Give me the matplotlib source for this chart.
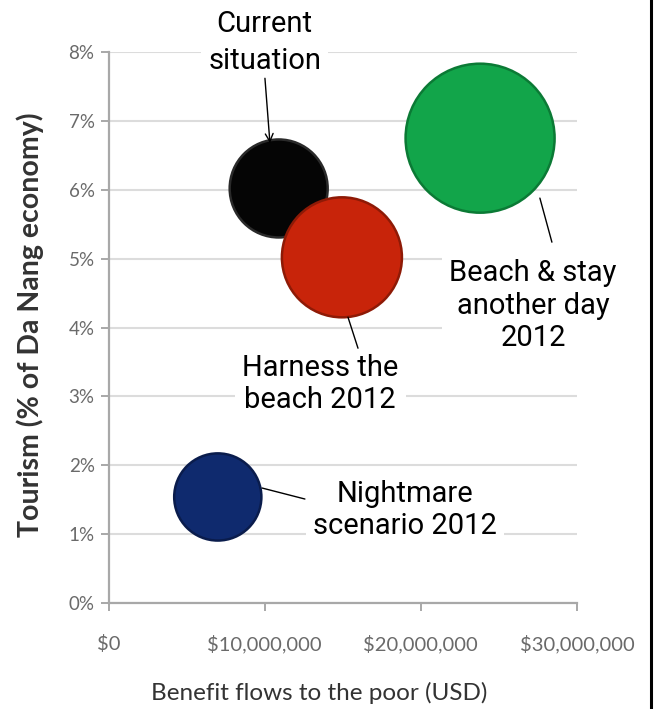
import matplotlib
matplotlib.use("Agg")
import matplotlib.pyplot as plt
from matplotlib.lines import Line2D
from matplotlib.ticker import FuncFormatter
from matplotlib import font_manager

# ---- data ----
scenarios = ["Current situation", "Harness the beach 2012",
             "Beach & stay another day 2012", "Nightmare scenario 2012"]
benefit_usd = [10.9e6, 14.95e6, 23.8e6, 7.0e6]
tourism_pct = [6.02, 5.02, 6.75, 1.54]
bubble_size = [2.40, 3.60, 5.55, 1.90]
colors = ["#050505", "#C8240A", "#12A54A", "#0F2A6E"]
edges = ["#2a2a2a", "#8E1A06", "#0B7A35", "#0A1C4C"]
x_ticks = [0, 10e6, 20e6, 30e6]
y_ticks = [0, 1, 2, 3, 4, 5, 6, 7, 8]

names = {f.name for f in font_manager.fontManager.ttflist}
narrow = "Liberation Sans Narrow" if "Liberation Sans Narrow" in names else "Roboto"

fig = plt.figure(figsize=(6.56, 7.09), dpi=100)
ax = fig.add_axes([0.1654, 0.1495, 0.714, 0.777])

ax.set_xlim(0, 30e6)
ax.set_ylim(0, 8)
ax.set_xticks(x_ticks)
ax.set_yticks(y_ticks)
ax.xaxis.set_major_formatter(FuncFormatter(lambda v, p: "${:,.0f}".format(v)))
ax.yaxis.set_major_formatter(FuncFormatter(lambda v, p: "{:.0f}%".format(v)))

for s in ["top", "right"]:
    ax.spines[s].set_visible(False)
for s in ["left", "bottom"]:
    ax.spines[s].set_color("#A8A8A8")
    ax.spines[s].set_linewidth(1.6)
ax.grid(axis="y", color="#DCDCDC", linewidth=1.5)
ax.set_axisbelow(True)
ax.tick_params(axis="both", colors="#A8A8A8", width=1.4, length=6,
               labelcolor="#6A6A6A")
ax.tick_params(axis="x", pad=17, labelsize=14.5)
ax.tick_params(axis="y", pad=4, labelsize=13.5)
for lab in ax.get_xticklabels() + ax.get_yticklabels():
    lab.set_family("Lato")

ax.set_xlabel("Benefit flows to the poor (USD)", fontsize=17.5, family="Lato",
              color="#333333")
ax.xaxis.set_label_coords(0.449, -0.143)
ax.set_ylabel("Tourism (% of Da Nang economy)", fontsize=20.5, family="Lato",
              color="#333333", fontweight="bold")
ax.yaxis.set_label_coords(-0.137, 0.505)

sizes = [b * 2074 for b in bubble_size]
ax.scatter(benefit_usd, tourism_pct, s=sizes, c=colors, edgecolors=edges,
           linewidths=1.8, zorder=3, clip_on=False)

label_pos = [(10.0e6, 8.14), (13.55e6, 3.18), (27.2e6, 4.32), (19.0e6, 1.35)]
label_text = ["Current\nsituation", "Harness the\nbeach 2012",
              "Beach & stay\nanother day\n2012", "Nightmare\nscenario 2012"]
label_spacing = [1.4, 1.22, 1.22, 1.22]
for txt, pos, ls in zip(label_text, label_pos, label_spacing):
    ax.text(pos[0], pos[1], txt, ha="center", va="center", fontsize=21,
            family=narrow, color="black", linespacing=ls, zorder=4,
            clip_on=False,
            bbox=dict(boxstyle="square,pad=0.25", fc="white", ec="none"))

leader_start = [(10.02e6, 7.62), (15.98e6, 3.70), (28.4e6, 5.24), (12.58e6, 1.51)]
leader_end = [(10.34e6, 6.68), (15.34e6, 4.15), (27.63e6, 5.88), (9.83e6, 1.67)]
styles = ["->", "-", "-", "-"]
for st0, en, st in zip(leader_start, leader_end, styles):
    ax.annotate("", xy=en, xytext=st0, annotation_clip=False, zorder=6,
                arrowprops=dict(arrowstyle=st, color="black", lw=1.0,
                                shrinkA=0, shrinkB=0, mutation_scale=14))

fig.add_artist(Line2D([0.9925, 0.9925], [0, 1], color="black", lw=2.2,
                      transform=fig.transFigure))

fig.savefig("out.png", dpi=100, facecolor="white")
